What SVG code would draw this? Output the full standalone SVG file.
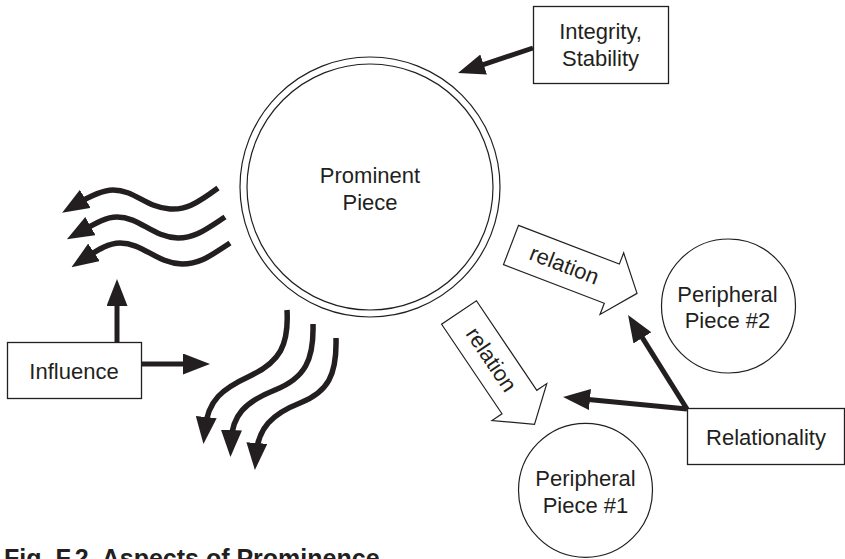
<svg xmlns="http://www.w3.org/2000/svg" width="845" height="559" viewBox="0 0 845 559">
<style>
text{font-family:"Liberation Sans",Arial,Helvetica,sans-serif;font-size:22px;fill:#231f20;text-anchor:middle}
.box{fill:#fff;stroke:#231f20;stroke-width:1.3}
.ring{fill:none;stroke:#231f20;stroke-width:1.2}
.arr{fill:none;stroke:#231f20;stroke-width:5;marker-end:url(#ah)}
.wave{fill:none;stroke:#231f20;stroke-width:5.5;marker-end:url(#ah)}
.block{fill:#fff;stroke:#231f20;stroke-width:1.2;stroke-linejoin:miter}
.cap{font-weight:bold;font-size:25px;text-anchor:start}
</style>
<defs>
<marker id="ah" viewBox="0 0 27 21" refX="12" refY="10.5" markerWidth="27" markerHeight="21" markerUnits="userSpaceOnUse" orient="auto">
<path d="M0,0 L27,10.5 L0,21 z" fill="#231f20"/>
</marker>
</defs>
<rect width="845" height="559" fill="#fff"/>

<g id="prominent">
<circle class="ring" cx="370" cy="187" r="130"/>
<circle class="ring" cx="370" cy="187" r="123"/>
<text x="370" y="183">Prominent</text>
<text x="370" y="210">Piece</text>
</g>

<g id="integrity">
<rect class="box" x="533.5" y="6.5" width="135" height="77"/>
<text x="600.5" y="39">Integrity,</text>
<text x="600.5" y="66">Stability</text>
</g>

<g id="influence">
<rect class="box" x="7.5" y="342.5" width="134" height="56"/>
<text x="74" y="379">Influence</text>
</g>

<g id="relationality">
<rect class="box" x="687.5" y="408.5" width="157" height="56"/>
<text x="766" y="445">Relationality</text>
</g>

<g id="peripheral2">
<circle class="ring" cx="728.5" cy="306" r="67"/>
<text x="727.5" y="302">Peripheral</text>
<text x="727.5" y="328">Piece #2</text>
</g>

<g id="peripheral1">
<circle class="ring" cx="585.5" cy="490.3" r="67"/>
<text x="585.5" y="486">Peripheral</text>
<text x="585.5" y="513">Piece #1</text>
</g>

<g id="relation-upper" transform="translate(511,245) rotate(21)">
<polygon class="block" points="0,-21 108,-21 108,-33 135,0 108,33 108,21 0,21"/>
<text x="57" y="7">relation</text>
</g>

<g id="relation-lower" transform="translate(459,312.5) rotate(56)">
<polygon class="block" points="0,-21 108,-21 108,-33 135,0 108,33 108,21 0,21"/>
<text x="57" y="7">relation</text>
</g>

<g id="connectors">
<line class="arr" x1="533" y1="48" x2="472.2" y2="68.3"/>
<line class="arr" x1="117" y1="342" x2="117" y2="294"/>
<line class="arr" x1="141" y1="364" x2="195" y2="364"/>
<line class="arr" x1="687" y1="409" x2="636" y2="327.7"/>
<line class="arr" x1="687" y1="409" x2="578" y2="398.4"/>
<path class="wave" d="M218,188 C195,205 185,210 170,209 C145,207 135,190 113,190 C102,190 90,196 75,205"/>
<path class="wave" d="M225,217 C205,230 195,238 178,238 C152,237 140,217 117,217 C106,217 96,223 80,232"/>
<path class="wave" d="M230,243 C210,256 200,264 182,264 C156,263 143,243 120,243 C109,243 99,249 84,259"/>
<path class="wave" d="M287,310 C289,345 280,362 250,376 C222,389 208,400 205,429"/>
<path class="wave" d="M313,324 C314,360 305,378 275,390 C245,402 232,415 231,442"/>
<path class="wave" d="M336,338 C337,375 328,392 300,403 C272,414 258,428 256,455"/>
</g>

<text class="cap" x="4" y="567.4">Fig. F.2. Aspects of Prominence</text>
</svg>
